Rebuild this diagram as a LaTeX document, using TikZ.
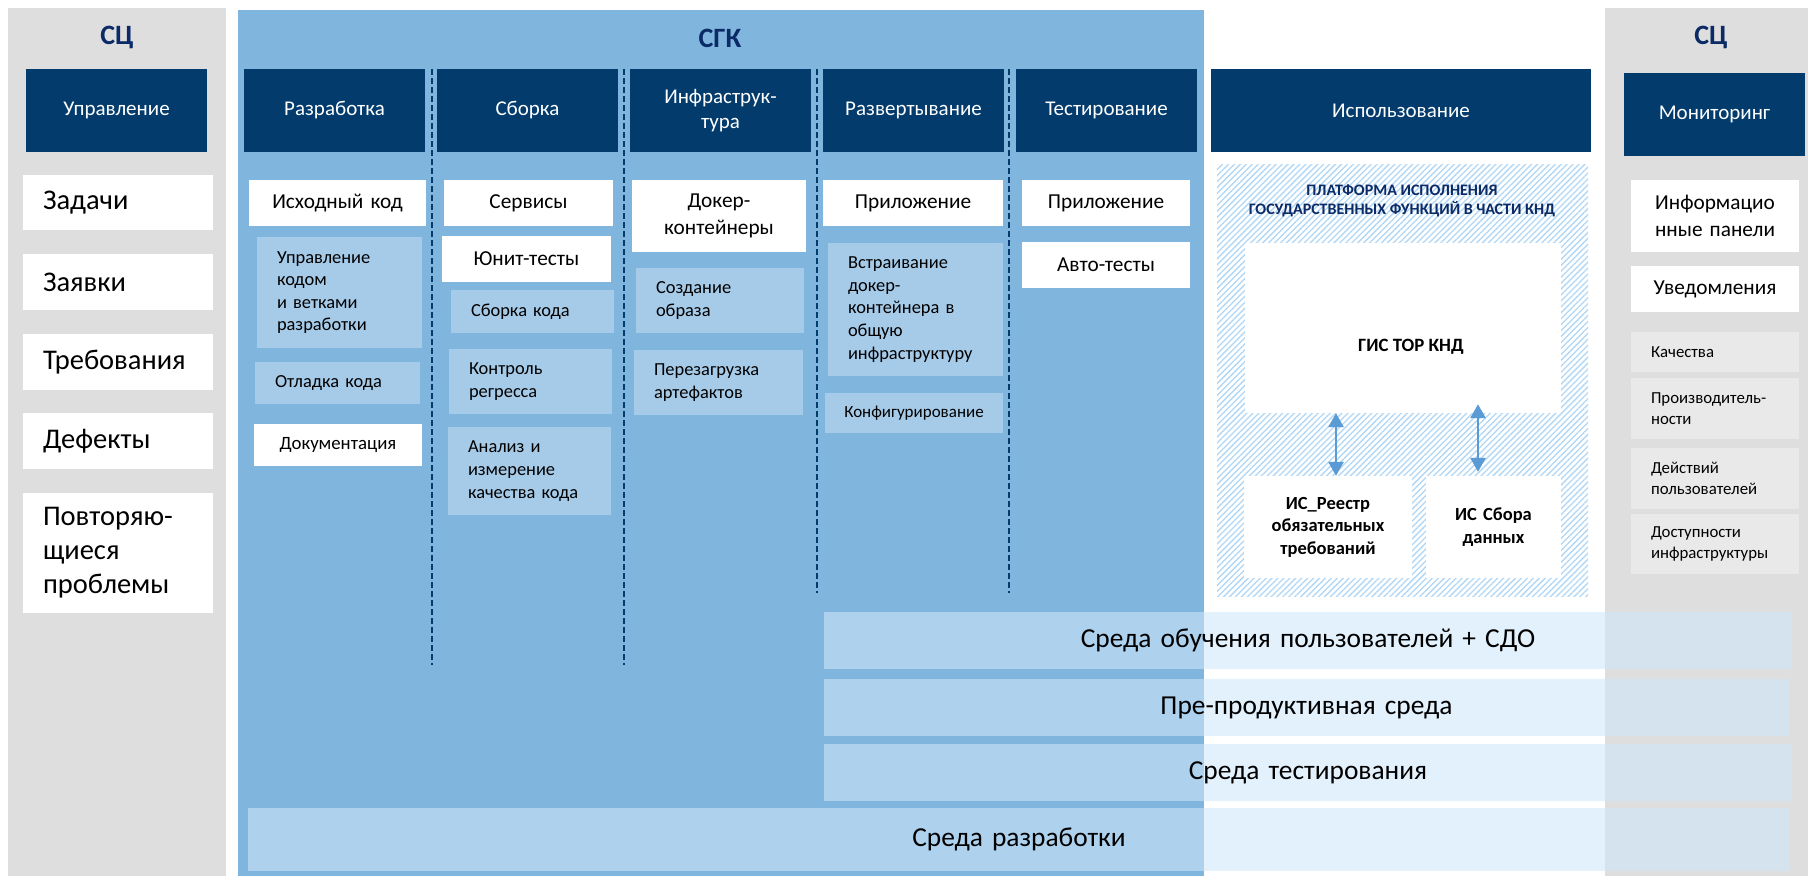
\documentclass[tikz,border=0pt]{standalone}
\usepackage{fontspec}
\setmainfont{Carlito}
\usetikzlibrary{arrows.meta,patterns.meta}
\definecolor{grayc}{RGB}{222,222,222}
\definecolor{bluec}{RGB}{128,182,222}
\definecolor{navyc}{RGB}{2,59,108}
\definecolor{titlec}{RGB}{11,42,102}
\definecolor{lightc}{RGB}{166,203,233}
\definecolor{rgc}{RGB}{233,233,233}
\definecolor{barc}{RGB}{208,232,251}
\definecolor{hatchc}{RGB}{176,215,246}
\definecolor{arrowc}{RGB}{91,155,213}
\newcommand\fs[2]{\fontsize{#1}{#2}\selectfont}
% centered box: name, style, x1,y1,x2,y2, text
\newcommand\bxc[7]{%
  \pgfmathsetmacro\bxW{#5-#3}\pgfmathsetmacro\bxH{#6-#4}%
  \pgfmathsetmacro\bxT{#5-#3-6}%
  \pgfmathsetmacro\bxX{(#3+#5)/2}\pgfmathsetmacro\bxY{(#4+#6)/2}%
  \node[#2, minimum width=\bxW pt, minimum height=\bxH pt, text width=\bxT pt,
        inner xsep=3pt, inner ysep=0pt, align=center] (#1) at (\bxX,\bxY) {#7};}
% left-aligned box
\newcommand\bxl[7]{%
  \pgfmathsetmacro\bxW{#5-#3}\pgfmathsetmacro\bxH{#6-#4}%
  \pgfmathsetmacro\bxT{#5-#3-40}%
  \pgfmathsetmacro\bxX{(#3+#5)/2}\pgfmathsetmacro\bxY{(#4+#6)/2}%
  \node[#2, minimum width=\bxW pt, minimum height=\bxH pt, text width=\bxT pt,
        inner xsep=20pt, inner ysep=0pt, align=left] (#1) at (\bxX,\bxY) {#7};}
\tikzset{
  hdr/.style={fill=navyc, text=white, font=\fs{21}{25.5}},
  wbox/.style={fill=white, text=black, font=\fs{21.3}{27}},
  wsm/.style={fill=white, text=black, font=\fs{18.8}{22}},
  lbox/.style={fill=lightc, text=black, font=\fs{18.4}{22.6}},
  lsm/.style={fill=lightc, text=black, font=\fs{17}{20}},
  bigbox/.style={fill=white, text=black, font=\fs{28.5}{34}},
  gbox/.style={fill=rgc, text=black, font=\fs{16.8}{20.5}},
  barbox/.style={fill=barc, fill opacity=0.575, text opacity=1, text=black, font=\fs{27.4}{32}},
  ttl/.style={text=titlec, font=\bfseries\fs{28}{32}},
  plat/.style={text=titlec, font=\bfseries\fs{16}{19}, align=center},
  isbox/.style={fill=white, text=black, font=\bfseries\fs{18.5}{22.5}},
  dsh/.style={draw=navyc, line width=1.2pt, dash pattern=on 6pt off 3pt},
  arr/.style={draw=arrowc, line width=2.8pt,
     {Triangle[width=15pt,length=14pt]}-{Triangle[width=15pt,length=14pt]}},
}
\begin{document}
\begin{tikzpicture}[x=1pt,y=-1pt]
\useasboundingbox (0,0) rectangle (1808,876);
\fill[white] (0,0) rectangle (1808,876);
% panels
\fill[grayc] (8,8) rectangle (226,876);
\fill[bluec] (238,10) rectangle (1204,876);
\fill[grayc] (1605,8) rectangle (1808,876);
% titles
\node[ttl] (sc1) at (117,37) {СЦ};
\node[ttl] (sgk) at (720,38) {СГК};
\node[ttl] (sc2) at (1711,37) {СЦ};
% dashed separators
\coordinate (d1t) at (432,69); \coordinate (d1b) at (432,665);
\coordinate (d2t) at (624,69); \coordinate (d2b) at (624,665);
\coordinate (d3t) at (817,69); \coordinate (d3b) at (817,593);
\coordinate (d4t) at (1009,69); \coordinate (d4b) at (1009,593);
\draw[dsh] (d1t) -- (d1b);
\draw[dsh] (d2t) -- (d2b);
\draw[dsh] (d3t) -- (d3b);
\draw[dsh] (d4t) -- (d4b);
% headers
\bxc{h1}{hdr}{26}{69}{207}{152}{Управление}
\bxc{h2}{hdr}{244}{69}{425}{152}{Разработка}
\bxc{h3}{hdr}{437}{69}{618}{152}{Сборка}
\bxc{h4}{hdr}{630}{69}{811}{152}{Инфраструк-\\тура}
\bxc{h5}{hdr}{823}{69}{1004}{152}{Развертывание}
\bxc{h6}{hdr}{1016}{69}{1197}{152}{Тестирование}
\bxc{h7}{hdr}{1211}{69}{1591}{152}{Использование}
\bxc{h8}{hdr}{1624}{73}{1805}{156}{Мониторинг}
% left panel
\bxl{l1}{bigbox}{23}{175}{213}{230}{Задачи}
\bxl{l2}{bigbox}{23}{254}{213}{310}{Заявки}
\bxl{l3}{bigbox}{23}{334}{213}{390}{Требования}
\bxl{l4}{bigbox}{23}{413}{213}{469}{Дефекты}
\bxl{l5}{bigbox}{23}{493}{213}{613}{Повторяю-\\щиеся\\проблемы}
% Разработка
\bxc{r1}{wbox}{249}{180}{426}{226}{Исходный код}
\bxl{r2}{lbox}{257}{237}{422}{348}{Управление\\кодом\\и ветками\\разработки}
\bxl{r3}{lbox}{255}{362}{420}{404}{Отладка кода}
\bxc{r4}{wsm}{254}{424}{422}{466}{Документация}
% Сборка
\bxc{s1}{wbox}{444}{180}{613}{226}{Сервисы}
\bxc{s2}{wbox}{442}{236}{611}{282}{Юнит-тесты}
\bxl{s3}{lbox}{451}{290}{614}{333}{Сборка кода}
\bxl{s4}{lbox}{449}{349}{612}{414}{Контроль\\регресса}
\bxl{s5}{lbox}{448}{427}{611}{515}{Анализ и\\измерение\\качества кода}
% Инфраструктура
\bxc{i1}{wbox}{632}{180}{806}{252}{Докер-\\контейнеры}
\bxl{i2}{lbox}{636}{268}{804}{333}{Создание\\образа}
\bxl{i3}{lbox}{634}{350}{803}{415}{Перезагрузка\\артефактов}
% Развертывание
\bxc{p1}{wbox}{823}{180}{1003}{226}{Приложение}
\bxl{p2}{lbox}{828}{243}{1003}{376}{Встраивание\\докер-\\контейнера в\\общую\\инфраструктуру}
\bxc{p3}{lsm}{825}{393}{1003}{433}{Конфигурирование}
% Тестирование
\bxc{t1}{wbox}{1022}{180}{1190}{226}{Приложение}
\bxc{t2}{wbox}{1022}{242}{1190}{288}{Авто-тесты}
% Использование: platform
\fill[pattern={Lines[angle=45,distance=4.2pt,line width=1.3pt]}, pattern color=hatchc]
  (1217,164) rectangle (1588,596);
\node[plat] (platf) at (1402,201) {ПЛАТФОРМА ИСПОЛНЕНИЯ\\ГОСУДАРСТВЕННЫХ ФУНКЦИЙ В ЧАСТИ КНД};
\bxc{gis}{isbox}{1245}{243}{1561}{413}{}
\node[text=black, font=\bfseries\fs{18.8}{22.5}] (gistxt) at (1411,347) {ГИС ТОР КНД};
\bxc{reestr}{isbox}{1244}{476}{1412}{578}{ИС\_Реестр\\обязательных\\требований}
\bxc{sbor}{isbox}{1426}{476}{1561}{578}{ИС Сбора\\данных}
\coordinate (a1) at (1336,0);
\coordinate (a2) at (1478,0);
\path (gis.south -| a2) ++(0,-9) coordinate (a2t);
\path (sbor.north -| a2) ++(0,-4) coordinate (a2b);
\draw[arr] (reestr.north -| a1) -- (gis.south -| a1);
\draw[arr] (a2b) -- (a2t);
% Мониторинг
\bxc{m1}{wbox}{1631}{180}{1799}{252}{Информацио\\нные панели}
\bxc{m2}{wbox}{1631}{266}{1799}{312}{Уведомления}
\bxl{m3}{gbox}{1631}{332}{1799}{372}{Качества}
\bxl{m4}{gbox}{1631}{378}{1799}{439}{Производитель-\\ности}
\bxl{m5}{gbox}{1631}{448}{1799}{509}{Действий\\пользователей}
\bxl{m6}{gbox}{1631}{514}{1799}{574}{Доступности\\инфраструктуры}
% environment bars
\bxc{e1}{barbox}{824}{612}{1792}{669}{Среда обучения пользователей + СДО}
\bxc{e2}{barbox}{824}{679}{1789}{736}{Пре-продуктивная среда}
\bxc{e3}{barbox}{824}{744}{1792}{801}{Среда тестирования}
\bxc{e4}{barbox}{248}{808}{1790}{871}{Среда разработки}
\end{tikzpicture}
\end{document}
